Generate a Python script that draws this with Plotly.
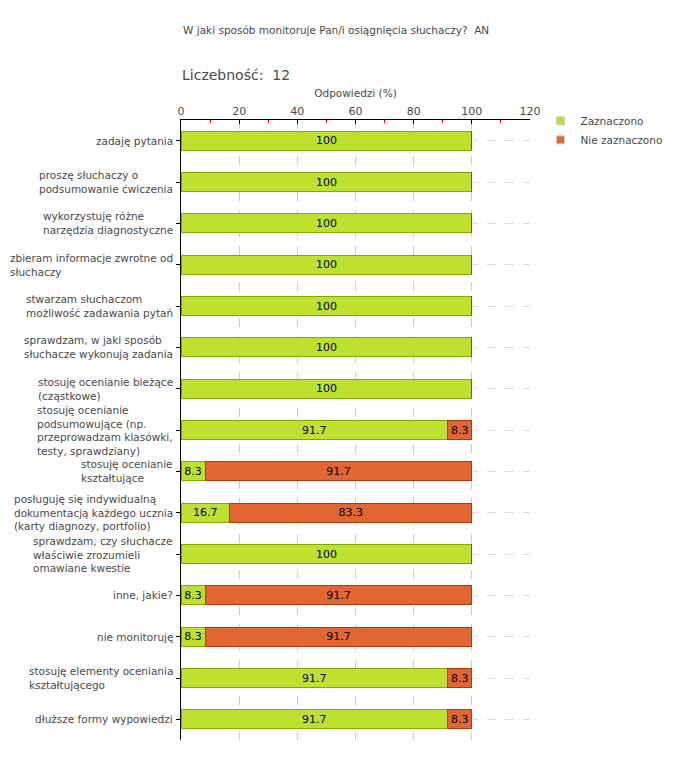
import plotly.graph_objects as go

categories = [
    "zadaję pytania",
    "proszę słuchaczy o<br>podsumowanie ćwiczenia",
    "wykorzystuję różne<br>narzędzia diagnostyczne",
    "zbieram informacje zwrotne od<br>słuchaczy",
    "stwarzam słuchaczom<br>możliwość zadawania pytań",
    "sprawdzam, w jaki sposób<br>słuchacze wykonują zadania",
    "stosuję ocenianie bieżące<br>(cząstkowe)",
    "stosuję ocenianie<br>podsumowujące (np.<br>przeprowadzam klasówki,<br>testy, sprawdziany)",
    "stosuję ocenianie<br>kształtujące",
    "posługuję się indywidualną<br>dokumentacją każdego ucznia<br>(karty diagnozy, portfolio)",
    "sprawdzam, czy słuchacze<br>właściwie zrozumieli<br>omawiane kwestie",
    "inne, jakie?",
    "nie monitoruję",
    "stosuję elementy oceniania<br>kształtującego",
    "dłuższe formy wypowiedzi",
]
zaznaczono = [100, 100, 100, 100, 100, 100, 100, 91.7, 8.3, 16.7, 100, 8.3, 8.3, 91.7, 91.7]
nie_zaznaczono = [0, 0, 0, 0, 0, 0, 0, 8.3, 91.7, 83.3, 0, 91.7, 91.7, 8.3, 8.3]
x_ticks = [0, 20, 40, 60, 80, 100, 120]

FONT = "DejaVu Sans"
GREY = "#4a4a4a"
GREEN, GREEN_EDGE = "#bee12f", "#86a800"
ORANGE, ORANGE_EDGE = "#e2662f", "#b23a0c"

def fmt(v):
    return "" if v == 0 else (str(int(v)) if v == int(v) else str(v))

fig = go.Figure()
fig.add_trace(go.Bar(
    name="Zaznaczono", y=categories, x=zaznaczono, orientation="h",
    marker=dict(color=GREEN, line=dict(color=GREEN_EDGE, width=1)),
    text=[fmt(v) for v in zaznaczono], textposition="inside",
    insidetextanchor="middle", textfont=dict(color="black", size=11, family=FONT),
    width=0.46, showlegend=False,
))
fig.add_trace(go.Bar(
    name="Nie zaznaczono", y=categories, x=nie_zaznaczono, orientation="h",
    marker=dict(color=ORANGE, line=dict(color=ORANGE_EDGE, width=1)),
    text=[fmt(v) for v in nie_zaznaczono], textposition="inside",
    insidetextanchor="middle", textfont=dict(color="black", size=11, family=FONT),
    width=0.46, showlegend=False,
))
# legend entries (small square swatches)
for name, col in [("Zaznaczono", GREEN), ("Nie zaznaczono", ORANGE)]:
    fig.add_trace(go.Scatter(
        name=name, x=[None], y=[categories[0]], mode="markers",
        marker=dict(symbol="square", size=8, color=col, line=dict(color="#cfcfcf", width=1)),
        showlegend=True, hoverinfo="skip",
    ))

annotations = []
for c in categories:
    annotations.append(dict(
        xref="paper", yref="y", x=0, y=c, xshift=-6, xanchor="right",
        yanchor="middle", align="left", text=c, showarrow=False,
        font=dict(family=FONT, size=10.5, color=GREY),
    ))
annotations.append(dict(
    xref="paper", yref="paper", x=0, y=1.145, xanchor="left", yanchor="middle",
    text="W jaki sposób monitoruje Pan/i osiągnięcia słuchaczy?  AN", showarrow=False,
    font=dict(family=FONT, size=10.5, color=GREY),
))
annotations.append(dict(
    xref="paper", yref="paper", x=-0.003, y=1.0726, xanchor="left", yanchor="middle",
    text="Liczebność:  12", showarrow=False,
    font=dict(family=FONT, size=14, color=GREY),
))

fig.update_layout(
    width=672, height=752,
    margin=dict(l=173, r=150, t=112, b=20, autoexpand=False),
    barmode="stack", bargap=0.54,
    plot_bgcolor="white", paper_bgcolor="white",
    font=dict(family=FONT, size=11, color=GREY),
    showlegend=True,
    legend=dict(x=1.03, y=1.022, xanchor="left", yanchor="top",
                traceorder="normal", itemsizing="trace",
                font=dict(family=FONT, size=10.5, color=GREY),
                bgcolor="rgba(0,0,0,0)", itemwidth=30, tracegroupgap=0),
    annotations=annotations,
    uniformtext=dict(mode="show", minsize=11),
)
fig.update_xaxes(
    side="top", range=[0, 120], tickvals=x_ticks, ticktext=[str(t) for t in x_ticks],
    showline=True, linecolor="black", linewidth=1,
    ticks="inside", ticklen=4, tickcolor="black",
    minor=dict(dtick=10, ticks="inside", ticklen=3, tickcolor="red", showgrid=False),
    showgrid=True, gridcolor="#cccccc", griddash="dash", gridwidth=1,
    zeroline=False,
    title=dict(text="Odpowiedzi (%)", font=dict(family=FONT, size=10.5, color=GREY), standoff=4),
    tickfont=dict(family=FONT, size=11, color=GREY),
)
fig.update_yaxes(
    range=[len(categories) - 0.5, -0.5], showticklabels=False,
    showline=True, linecolor="black", linewidth=1,
    ticks="outside", ticklen=4, tickcolor="black",
    showgrid=True, gridcolor="#dddddd", griddash="dash", gridwidth=1,
)

fig.write_html("out.html")
